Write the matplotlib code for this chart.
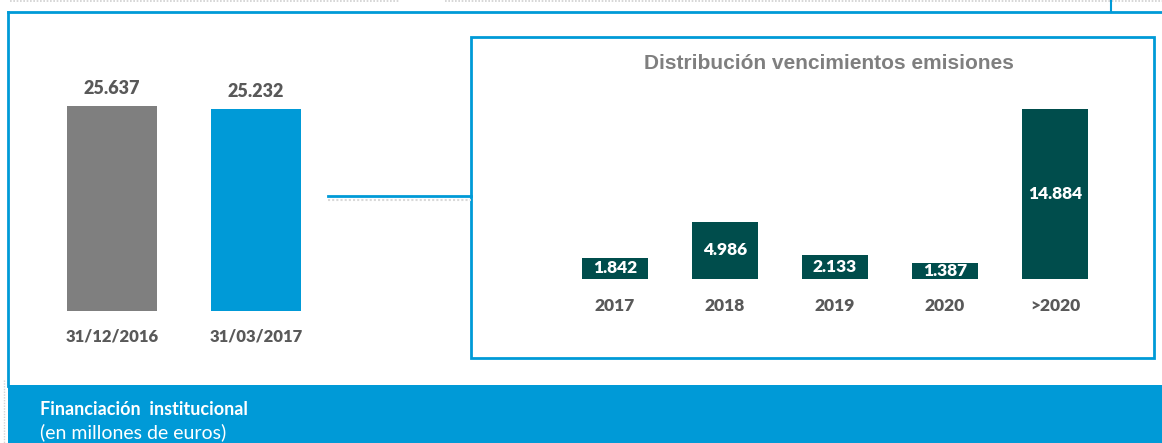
import matplotlib
matplotlib.use("Agg")
import matplotlib.pyplot as plt
from matplotlib.patches import Rectangle

# ---- data ----
left_categories = ["31/12/2016", "31/03/2017"]
left_values = [25637, 25232]
left_labels = ["25.637", "25.232"]

right_categories = ["2017", "2018", "2019", "2020", ">2020"]
right_values = [1842, 4986, 2133, 1387, 14884]
right_labels = ["1.842", "4.986", "2.133", "1.387", "14.884"]

title = "Distribución vencimientos emisiones"
band_title = "Financiación  institucional"
band_sub = "(en millones de euros)"

# ---- style ----
W, H = 1162, 443
DPI = 100
BLUE = "#009AD7"
GRAY_BAR = "#7F7F7F"
TEAL = "#004D4C"
TXT = "#595959"
FONT = ["Lato", "DejaVu Sans"]

fig = plt.figure(figsize=(W / DPI, H / DPI), dpi=DPI)
fig.patch.set_facecolor("white")

def fx(px):
    return px / W

def fy(py):
    return 1 - py / H

# background / decoration axes in pixel coordinates
bg = fig.add_axes([0, 0, 1, 1])
bg.set_xlim(0, W)
bg.set_ylim(H, 0)
bg.axis("off")

# faint dotted lines at the top
bg.plot([10, 400], [1, 1], color="#cfcfcf", lw=1.2, ls=(0, (1, 1)))
bg.plot([445, 1162], [1, 1], color="#cfcfcf", lw=1.2, ls=(0, (1, 1)))
bg.plot([1111, 1111], [0, 12], color=BLUE, lw=1.5)
# outer frame
bg.plot([8, 1162], [12, 12], color=BLUE, lw=2)
bg.plot([8, 8], [12, 386], color=BLUE, lw=2)
bg.plot([4, 4], [380, 443], color="#d5d5d5", lw=1.0, ls=(0, (1, 1)))
# inner box
bg.add_patch(Rectangle((471, 37), 1154 - 471, 358 - 37, fill=False,
                       edgecolor=BLUE, lw=2))
# connector line
bg.plot([328, 471], [196, 196], color=BLUE, lw=2)
bg.plot([328, 471], [200, 200], color="#d8d8d8", lw=1.5, ls=(0, (1, 1)))
# bottom band
bg.add_patch(Rectangle((8, 385), W - 8, H - 385, facecolor=BLUE,
                       edgecolor="none"))
bg.text(40, 415, band_title, color="white", fontsize=13, fontweight="bold",
        family=FONT, va="baseline", ha="left")
bg.text(40, 438, band_sub, color="white", fontsize=14,
        family=FONT, va="baseline", ha="left")

# ---- left bar chart ----
# x: -0.5..1.5 -> px 40..328 ; baseline px 311, scale 0.008 px/unit
base_l = 311
h_px = 260
axl = fig.add_axes([fx(40), fy(base_l), fx(288), h_px / H])
axl.set_xlim(-0.5, 1.5)
axl.set_ylim(0, h_px / 0.008)
axl.axis("off")
xl = list(range(len(left_categories)))
axl.bar(xl, left_values, width=0.625, color=[GRAY_BAR, BLUE])
for x, v, lab in zip(xl, left_values, left_labels):
    axl.text(x, v + 2150, lab, ha="center", va="center", fontsize=13,
             fontweight="heavy", color=TXT, family=FONT)
for x, lab in zip(xl, left_categories):
    axl.text(x, -3250, lab, ha="center", va="center", fontsize=12,
             fontweight="heavy", color=TXT, family=FONT, clip_on=False)

# ---- right bar chart ----
# x: -0.5..4.5 -> px 560..1110 ; baseline px 279, scale 0.0115 px/unit
base_r = 279
hr_px = 200
scale_r = 0.01145
axr = fig.add_axes([fx(560), fy(base_r), fx(550), hr_px / H])
axr.set_xlim(-0.5, 4.5)
axr.set_ylim(0, hr_px / scale_r)
axr.axis("off")
xr = list(range(len(right_categories)))
bars = axr.bar(xr, right_values, width=0.6, color=TEAL)
for rect, v, lab in zip(bars, right_values, right_labels):
    t = axr.text(rect.get_x() + rect.get_width() / 2, v / 2, lab,
                 ha="center", va="center", fontsize=12.5, fontweight="heavy",
                 color="white", family=FONT)
    t.set_clip_path(rect)
for x, lab in zip(xr, right_categories):
    axr.text(x, -27 / scale_r, lab, ha="center", va="center", fontsize=12.5,
             fontweight="heavy", color=TXT, family=FONT, clip_on=False)

bg.text(829, 63, title, ha="center", va="center", fontsize=15,
        fontweight="bold", color="#7F7F7F", family=["Liberation Sans", "DejaVu Sans"])

fig.savefig("out.png", dpi=DPI)
